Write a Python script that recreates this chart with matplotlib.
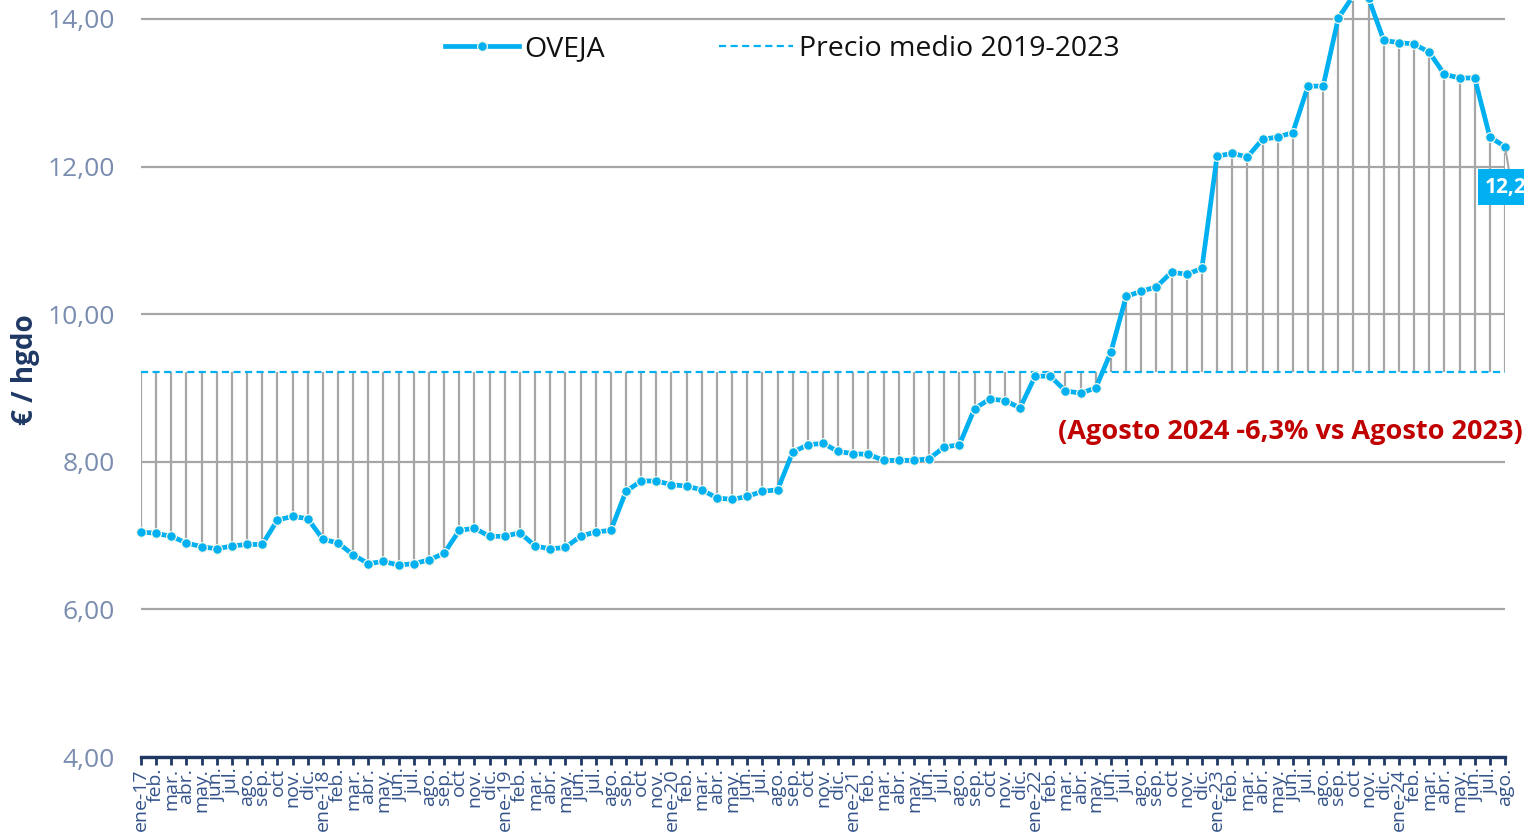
import matplotlib
matplotlib.use("Agg")
import matplotlib.pyplot as plt
from matplotlib.lines import Line2D
import numpy as np

plt.rcParams['font.family'] = ['Open Sans', 'DejaVu Sans']

# ---- data -------------------------------------------------------------
labels = [
    "ene-17", "feb.", "mar.", "abr.", "may.", "jun.", "jul.", "ago.", "sep.", "oct", "nov.", "dic.",
    "ene-18", "feb.", "mar.", "abr.", "may.", "jun.", "jul.", "ago.", "sep.", "oct", "nov.", "dic.",
    "ene-19", "feb.", "mar.", "abr.", "may.", "jun.", "jul.", "ago.", "sep.", "oct", "nov.",
    "ene-20", "feb.", "mar.", "abr.", "may.", "jun.", "jul.", "ago.", "sep.", "oct", "nov.", "dic.",
    "ene-21", "feb.", "mar.", "abr.", "may.", "jun.", "jul.", "ago.", "sep.", "oct", "nov.", "dic.",
    "ene-22", "feb.", "mar.", "abr.", "may.", "jun.", "jul.", "ago.", "sep.", "oct", "nov.", "dic.",
    "ene-23", "feb.", "mar.", "abr.", "may.", "jun.", "jul.", "ago.", "sep.", "oct", "nov.", "dic.",
    "ene-24", "feb.", "mar.", "abr.", "may.", "jun.", "jul.", "ago.",
]

oveja = [
    7.05, 7.03, 6.99, 6.90, 6.85, 6.82, 6.86, 6.88, 6.88, 7.21, 7.26, 7.23,
    6.95, 6.90, 6.74, 6.62, 6.65, 6.60, 6.62, 6.67, 6.76, 7.07, 7.10, 6.99,
    6.99, 7.04, 6.86, 6.82, 6.84, 6.99, 7.05, 7.07, 7.60, 7.74, 7.74,
    7.69, 7.67, 7.62, 7.51, 7.49, 7.53, 7.60, 7.62, 8.13, 8.23, 8.25, 8.14,
    8.11, 8.10, 8.02, 8.02, 8.02, 8.04, 8.20, 8.23, 8.72, 8.85, 8.83, 8.73,
    9.16, 9.16, 8.96, 8.93, 9.00, 9.49, 10.24, 10.31, 10.37, 10.57, 10.54, 10.62,
    12.14, 12.18, 12.13, 12.37, 12.40, 12.46, 13.09, 13.09, 14.01, 14.32, 14.28, 13.71,
    13.68, 13.66, 13.55, 13.25, 13.20, 13.20, 12.40, 12.27,
]

precio_medio = 9.22
last_label = "12,27"
note = "(Agosto 2024 -6,3% vs Agosto 2023)"

# ---- figure -----------------------------------------------------------
W, H = 1524, 834
fig = plt.figure(figsize=(W / 100, H / 100), dpi=100)
ax = fig.add_axes([141 / W, 77 / H, 1364 / W, 757 / H])

x = np.arange(len(oveja))
v = np.array(oveja)
mean_arr = np.full(len(x), precio_medio)

BLUE = "#00B0F0"
GRAY = "#A6A6A6"
NAVY = "#1F3864"

ax.set_xlim(0, len(x) - 1)
ax.set_ylim(4, 14.257)
ax.set_yticks([4, 6, 8, 10, 12, 14])
ax.set_yticklabels(["4,00", "6,00", "8,00", "10,00", "12,00", "14,00"])
ax.yaxis.grid(True, color=GRAY, lw=1.6, zorder=0)
ax.set_axisbelow(True)

# high-low lines
ax.vlines(x, np.minimum(v, mean_arr), np.maximum(v, mean_arr), color=GRAY, lw=1.6, zorder=2)

# mean line
ax.plot(x, mean_arr, color=BLUE, lw=1.6, ls=(0, (3.2, 2.0)), zorder=3,
        label="Precio medio 2019-2023")

# main series
ax.plot(x, v, color=BLUE, lw=3.4, marker="o", ms=7, mfc=BLUE, mec="#F4F7E8", mew=0.9,
        zorder=4, clip_on=False, label="OVEJA")

for s in ["top", "right", "left"]:
    ax.spines[s].set_visible(False)
ax.spines["bottom"].set_color(NAVY)
ax.spines["bottom"].set_linewidth(2.4)
ax.spines["bottom"].set_zorder(5)

ax.set_xticks(x)
ax.set_xticklabels(labels, rotation=90, fontsize=14, color="#34538A")
ax.tick_params(axis="x", direction="out", length=6, width=2, color=NAVY, pad=2)
ax.tick_params(axis="y", length=0, pad=19, labelsize=19, labelcolor="#7A8DB0")

ax.set_ylabel("€ / hgdo", fontsize=20, fontweight="bold", color=NAVY)
ax.yaxis.set_label_coords(-101 / 1364, (834 - 370 - 77) / 757)

# legend
handles = [
    Line2D([], [], color=BLUE, lw=3.4, marker="o", ms=7, mfc=BLUE, mec="#F4F7E8", mew=0.9),
    Line2D([], [], color=BLUE, lw=1.6, ls=(0, (3.2, 2.0))),
]
leg = fig.legend(handles, ["OVEJA", "Precio medio 2019-2023"], loc="center",
                 bbox_to_anchor=(782 / W, 1 - 49 / H), ncol=2, frameon=False,
                 fontsize=20.5, handlelength=2.6, handletextpad=0.2, columnspacing=4.0)
for t in leg.get_texts():
    t.set_color("#111111")

# red note
fig.text(1058 / W, 1 - 432 / H, note, ha="left", va="center", fontsize=19.5,
         fontweight="bold", color="#C00000")

# last value data label
ax.annotate(last_label, xy=(x[-1], v[-1]), xytext=(1485, H - 187), textcoords="figure pixels",
            ha="left", va="center", fontsize=15, fontweight="bold", color="white",
            bbox=dict(boxstyle="square,pad=0.35", fc=BLUE, ec="none"),
            arrowprops=dict(arrowstyle="-", color=GRAY, lw=1.5, shrinkA=0, shrinkB=3),
            annotation_clip=False, zorder=6)

fig.savefig("out.png", dpi=100)
